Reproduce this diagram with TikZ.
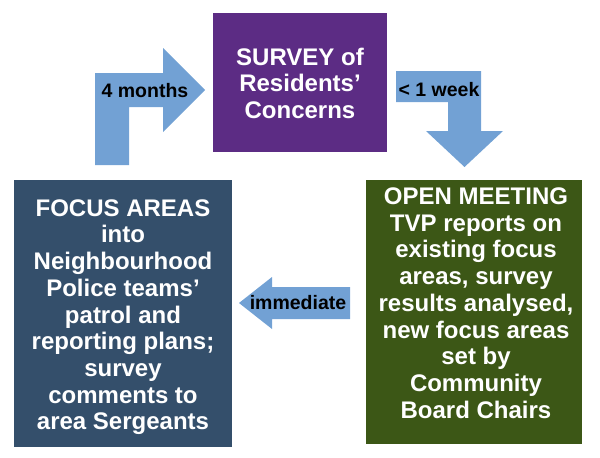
\documentclass[tikz,border=0pt]{standalone}
\usepackage{fontspec}
\setmainfont{Liberation Sans}

\definecolor{surveypurple}{HTML}{5C2C84}
\definecolor{focusblue}{HTML}{344F6B}
\definecolor{meetinggreen}{HTML}{3C5716}
\definecolor{arrowblue}{HTML}{72A1D4}

\begin{document}
\begin{tikzpicture}[x=1pt, y=-1pt,
    panel/.style={inner sep=0pt, outer sep=0pt},
    paneltext/.style={text=white, font=\bfseries\fontsize{24}{26.7}\selectfont,
      align=center, inner sep=0pt, anchor=north},
    steplabel/.style={text=black, font=\bfseries\fontsize{19.5}{22}\selectfont,
      inner sep=0pt, anchor=base},
    blockarrow/.style={fill=arrowblue}]
  \useasboundingbox (0,0) rectangle (600,458);

  % Draw the survey box
  \node[panel, fill=surveypurple, minimum width=174pt, minimum height=139pt] (survey) at (300,82.5) {};
  \node[paneltext] (surveytext) at (300,47.6) {SURVEY of\\Residents'\\Concerns};

  % Draw the focus areas box
  \node[panel, fill=focusblue, minimum width=218pt, minimum height=267pt] (focus) at (123,313.5) {};
  \node[paneltext] (focustext) at (123,199.3) {FOCUS AREAS\\into\\Neighbourhood\\Police teams'\\patrol and\\reporting plans;\\survey\\comments to\\area Sergeants};

  % Draw the open meeting box
  \node[panel, fill=meetinggreen, minimum width=216pt, minimum height=264pt] (meeting) at (474,312) {};
  \node[paneltext] (meetingtext) at (476,187.6) {OPEN MEETING\\TVP reports on\\existing focus\\areas, survey\\results analysed,\\new focus areas\\set by\\Community\\Board Chairs};

  % Draw the bent arrow into the survey
  \fill[blockarrow] (95,165) -- (95,73) -- (163,73) -- (163,48) -- (205,90)
    -- (163,132) -- (163,107) -- (129,107) -- (129,165) -- cycle;
  \node[steplabel] (months) at (145,97) {4 months};

  % Draw the bent arrow down to the meeting
  \fill[blockarrow] (396,71) -- (481,71) -- (481,131) -- (503,131) -- (464.5,167)
    -- (426,131) -- (448,131) -- (448,102) -- (396,102) -- cycle;
  \node[steplabel] (week) at (439,96) {< 1 week};

  % Draw the arrow back to the focus areas
  \fill[blockarrow] (239,303) -- (272,277) -- (272,287) -- (350,287)
    -- (350,319) -- (272,319) -- (272,329) -- cycle;
  \node[steplabel] (immediate) at (298,309) {immediate};
\end{tikzpicture}
\end{document}
